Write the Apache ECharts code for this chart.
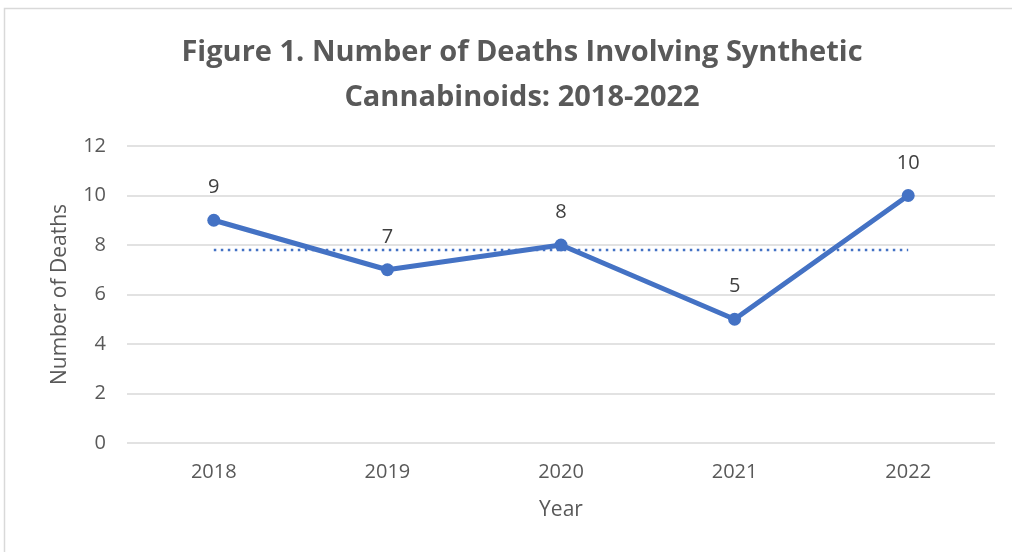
<!DOCTYPE html>
<html>
<head>
<meta charset="utf-8">
<script src="https://cdn.jsdelivr.net/npm/echarts@6/dist/echarts.min.js"></script>
<style>
  html, body { margin: 0; padding: 0; background: #fff; }
  #chart { width: 1012px; height: 552px; }
</style>
</head>
<body>
<div id="chart"></div>
<script>
// Deaths involving synthetic cannabinoids per year
const years = ['2018', '2019', '2020', '2021', '2022'];
const deaths = [9, 7, 8, 5, 10];
// Flat trend line (mean of the five years)
const trend = [7.8, 7.8, 7.8, 7.8, 7.8];
const yTicks = [0, 2, 4, 6, 8, 10, 12];

const textGray = '#595959';
const lineBlue = '#4472C4';
const font = '"Open Sans", "Liberation Sans", sans-serif';

const chart = echarts.init(document.getElementById('chart'));
chart.setOption({
  animation: false,
  backgroundColor: '#fff',
  graphic: [{
    type: 'rect',
    shape: { x: 4.5, y: 8.5, width: 1020, height: 560 },
    style: { fill: 'none', stroke: '#d9d9d9', lineWidth: 1.5 },
    silent: true
  }],
  title: {
    text: 'Figure 1. Number of Deaths Involving Synthetic\nCannabinoids: 2018-2022',
    left: 517,
    top: 25,
    textAlign: 'center',
    textStyle: {
      fontFamily: font,
      fontWeight: 'bold',
      fontSize: 29,
      lineHeight: 45,
      color: textGray
    }
  },
  grid: { left: 127, right: 17, top: 146, bottom: 109 },
  xAxis: {
    type: 'category',
    data: years,
    boundaryGap: true,
    name: 'Year',
    nameLocation: 'middle',
    nameGap: 57,
    nameTextStyle: { fontFamily: font, fontSize: 21, color: textGray },
    axisLine: { show: false },
    axisTick: { show: false },
    axisLabel: { fontFamily: font, fontSize: 20, color: textGray, margin: 19 }
  },
  yAxis: {
    type: 'value',
    min: yTicks[0],
    max: yTicks[yTicks.length - 1],
    interval: 2,
    name: 'Number of Deaths',
    nameLocation: 'middle',
    nameGap: 56,
    nameTextStyle: { fontFamily: font, fontSize: 21, color: textGray },
    axisLine: { show: false },
    axisTick: { show: false },
    axisLabel: { fontFamily: font, fontSize: 20, color: textGray, margin: 21 },
    splitLine: { lineStyle: { color: '#d9d9d9', width: 1.5 } }
  },
  series: [
    {
      name: 'Deaths',
      type: 'line',
      data: deaths,
      z: 3,
      symbol: 'circle',
      symbolSize: 13,
      lineStyle: { color: lineBlue, width: 5 },
      itemStyle: { color: lineBlue },
      label: {
        show: true,
        position: 'top',
        distance: 16,
        fontFamily: font,
        fontSize: 20,
        color: '#404040'
      }
    },
    {
      name: 'Trend',
      type: 'line',
      data: trend,
      z: 2,
      symbol: 'none',
      lineStyle: { color: lineBlue, width: 2.5, type: [2.5, 4.5] }
    }
  ]
});
</script>
</body>
</html>
